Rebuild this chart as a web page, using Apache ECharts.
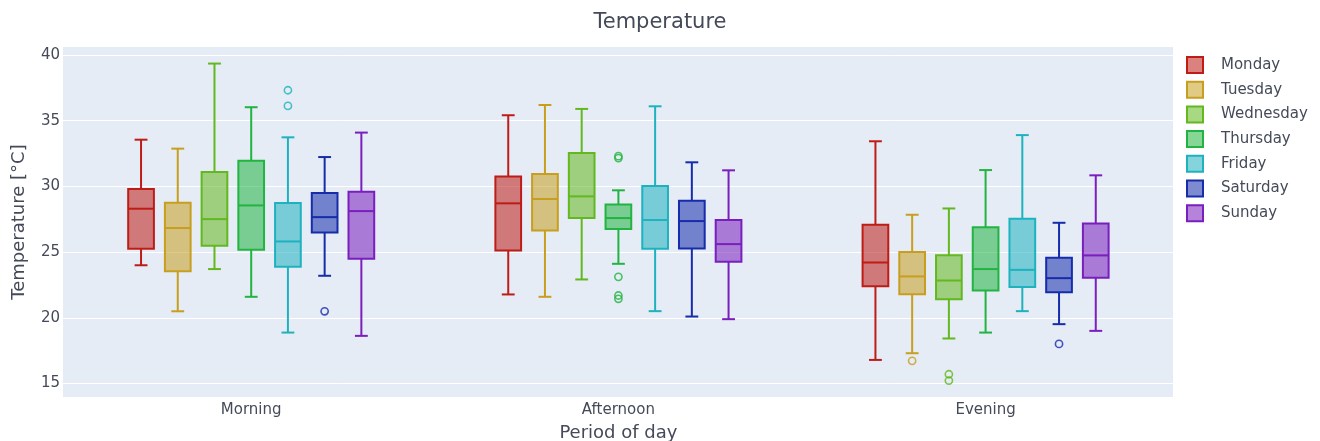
<!DOCTYPE html>
<html>
<head>
<meta charset="utf-8">
<script src="https://cdn.jsdelivr.net/npm/echarts@6/dist/echarts.min.js"></script>
<style>html,body{margin:0;padding:0;background:#fff}#c{width:1320px;height:441px}</style>
</head>
<body>
<div id="c"></div>
<script>
// ---- data ----
const periods = ['Morning', 'Afternoon', 'Evening'];
const days = ['Monday', 'Tuesday', 'Wednesday', 'Thursday', 'Friday', 'Saturday', 'Sunday'];
const yTicks = [15, 20, 25, 30, 35, 40];

// each row: [lower whisker, Q1, median, Q3, upper whisker] for Morning, Afternoon, Evening
const monday    = [[24.0, 25.25, 28.3, 29.8, 33.55], [21.78, 25.13, 28.71, 30.76, 35.41], [16.8, 22.41, 24.21, 27.08, 33.43]];
const tuesday   = [[20.5, 23.55, 26.83, 28.76, 32.87], [21.6, 26.65, 29.04, 30.94, 36.19], [17.31, 21.8, 23.15, 25.0, 27.84]];
const wednesday = [[23.71, 25.48, 27.51, 31.09, 39.34], [22.92, 27.59, 29.24, 32.54, 35.89], [18.43, 21.42, 22.84, 24.77, 28.32]];
const thursday  = [[21.6, 25.18, 28.55, 31.95, 36.02], [24.11, 26.75, 27.59, 28.63, 29.7], [18.88, 22.08, 23.71, 26.9, 31.24]];
const friday    = [[18.88, 23.88, 25.81, 28.73, 33.73], [20.51, 25.25, 27.44, 30.03, 36.09], [20.51, 22.34, 23.65, 27.54, 33.9]];
const saturday  = [[23.2, 26.5, 27.66, 29.49, 32.23], [20.1, 25.28, 27.36, 28.91, 31.83], [19.52, 21.95, 23.02, 24.57, 27.23]];
const sunday    = [[18.63, 24.49, 28.12, 29.59, 34.09], [19.9, 24.26, 25.61, 27.44, 31.22], [19.01, 23.05, 24.75, 27.18, 30.84]];

// outliers: [period index, value]
const mondayOut    = [];
const tuesdayOut   = [[2, 16.73]];
const wednesdayOut = [[2, 15.71], [2, 15.23]];
const thursdayOut  = [[1, 32.15], [1, 32.3], [1, 23.12], [1, 21.7], [1, 21.45]];
const fridayOut    = [[0, 37.31], [0, 36.12]];
const saturdayOut  = [[0, 20.5], [2, 18.02]];
const sundayOut    = [];

const boxData = [monday, tuesday, wednesday, thursday, friday, saturday, sunday];
const outData = [mondayOut, tuesdayOut, wednesdayOut, thursdayOut, fridayOut, saturdayOut, sundayOut];

// ---- styles ----
const strokes = ['rgb(190,28,22)', 'rgb(200,158,30)', 'rgb(98,184,30)', 'rgb(34,180,64)', 'rgb(30,178,190)', 'rgb(22,44,170)', 'rgb(122,30,190)'];
const fills = strokes.map(c => c.replace('rgb', 'rgba').replace(')', ',0.55)'));
const textColor = '#444a58';
const font = 'DejaVu Sans';

function boxRenderer(d) {
  const stroke = strokes[d], fill = fills[d];
  return function (params, api) {
    const cat = api.value(0);
    const unit = api.size([1, 0])[0];
    const cx = api.coord([cat, 20])[0] + (d - 3) * 0.1 * unit;
    const hw = 0.035 * unit, cap = 0.0175 * unit;
    const y = k => api.coord([cat, api.value(k)])[1];
    const yMin = y(1), yQ1 = y(2), yMed = y(3), yQ3 = y(4), yMax = y(5);
    const ls = { stroke: stroke, lineWidth: 2, fill: null };
    return {
      type: 'group',
      children: [
        { type: 'line', shape: { x1: cx, y1: yQ3, x2: cx, y2: yMax }, style: ls },
        { type: 'line', shape: { x1: cx, y1: yQ1, x2: cx, y2: yMin }, style: ls },
        { type: 'line', shape: { x1: cx - cap, y1: yMax, x2: cx + cap, y2: yMax }, style: ls },
        { type: 'line', shape: { x1: cx - cap, y1: yMin, x2: cx + cap, y2: yMin }, style: ls },
        { type: 'rect', shape: { x: cx - hw, y: yQ3, width: 2 * hw, height: yQ1 - yQ3 }, style: { fill: fill, stroke: stroke, lineWidth: 2 } },
        { type: 'line', shape: { x1: cx - hw, y1: yMed, x2: cx + hw, y2: yMed }, style: ls }
      ]
    };
  };
}

function outRenderer(d) {
  const stroke = strokes[d];
  return function (params, api) {
    const cat = api.value(0);
    const unit = api.size([1, 0])[0];
    const p = api.coord([cat, api.value(1)]);
    return {
      type: 'circle',
      shape: { cx: p[0] + (d - 3) * 0.1 * unit, cy: p[1], r: 3.6 },
      style: { fill: null, stroke: stroke, lineWidth: 1.6, opacity: 0.8 }
    };
  };
}

const yMinV = 13.98, yMaxV = 40.6;

const series = [];
days.forEach((name, d) => {
  series.push({
    type: 'custom', name: name, xAxisIndex: 1, yAxisIndex: 1,
    itemStyle: { color: fills[d], borderColor: strokes[d] },
    encode: { x: 0, y: [1, 2, 3, 4, 5] },
    renderItem: boxRenderer(d),
    data: boxData[d].map((b, i) => [i].concat(b))
  });
  series.push({
    type: 'custom', name: name, xAxisIndex: 1, yAxisIndex: 1,
    itemStyle: { color: fills[d], borderColor: strokes[d] },
    encode: { x: 0, y: 1 },
    renderItem: outRenderer(d),
    data: outData[d]
  });
});

const chart = echarts.init(document.getElementById('c'), null, { renderer: 'canvas' });
chart.setOption({
  animation: false,
  textStyle: { fontFamily: font },
  title: {
    text: 'Temperature', left: 'center', top: 7,
    textStyle: { fontFamily: font, fontSize: 21, fontWeight: 'normal', color: textColor }
  },
  legend: {
    orient: 'vertical', left: 1186, top: 56, itemGap: 6.7, padding: 0,
    itemWidth: 16, itemHeight: 16,
    icon: 'path://M0 0H10V10H0Z',
    textStyle: { fontFamily: font, fontSize: 15, color: textColor, padding: [0, 0, 0, 13] },
    data: days.map((n, d) => ({ name: n, itemStyle: { color: fills[d], borderColor: strokes[d], borderWidth: 2 } }))
  },
  grid: [
    { left: 63, right: 147, top: 47, bottom: 44, show: true, backgroundColor: '#e5ecf6', borderWidth: 0, outerBoundsMode: 'none', containLabel: false },
    { left: 67.6, width: 1101.6, top: 47, bottom: 44, outerBoundsMode: 'none', containLabel: false }
  ],
  xAxis: [
    { gridIndex: 0, type: 'value', min: 0, max: 1, show: false },
    {
      gridIndex: 1, type: 'category', data: periods,
      axisLine: { show: false }, axisTick: { show: false },
      axisLabel: { fontFamily: font, fontSize: 15, color: textColor, margin: 6 },
      splitLine: { show: false },
      name: 'Period of day', nameLocation: 'middle', nameGap: 27,
      nameTextStyle: { fontFamily: font, fontSize: 18, color: textColor }
    }
  ],
  yAxis: [
    {
      gridIndex: 0, type: 'value', min: yMinV, max: yMaxV, splitNumber: 5,
      axisLine: { show: false }, axisTick: { show: false },
      axisLabel: {
        fontFamily: font, fontSize: 15, color: textColor, margin: 3,
        showMinLabel: false, showMaxLabel: false,
        formatter: v => (yTicks.indexOf(Math.round(v * 1000) / 1000) >= 0 ? String(v) : '')
      },
      splitLine: { show: true, showMinLine: false, showMaxLine: false, lineStyle: { color: '#ffffff', width: 1 } },
      name: 'Temperature [°C]', nameLocation: 'middle', nameGap: 35,
      nameTextStyle: { fontFamily: font, fontSize: 18, color: textColor }
    },
    { gridIndex: 1, type: 'value', min: yMinV, max: yMaxV, show: false, splitLine: { show: false } }
  ],
  series: series
});
</script>
</body>
</html>
